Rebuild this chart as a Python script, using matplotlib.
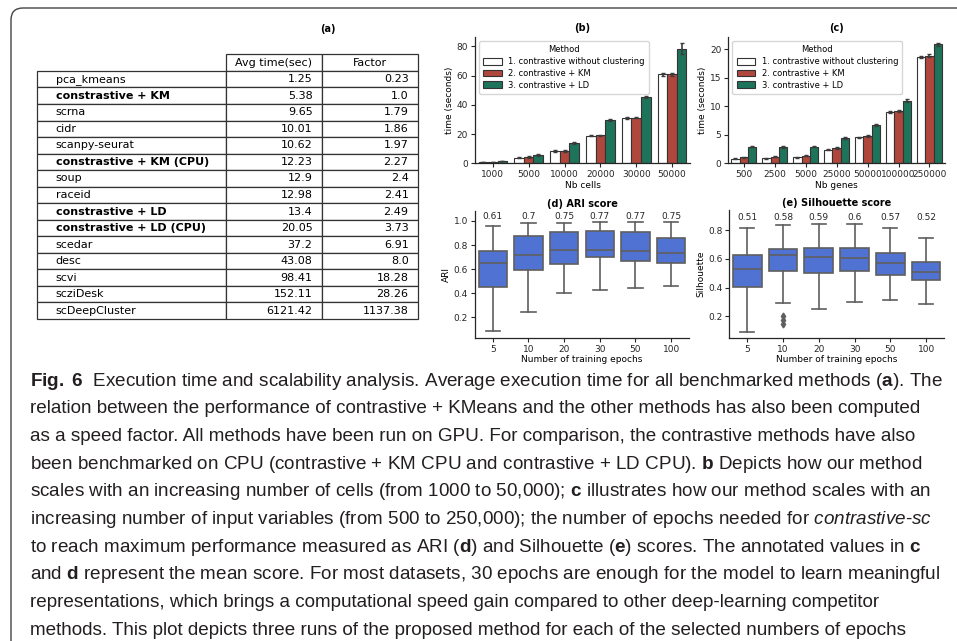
import matplotlib
matplotlib.use("Agg")
import numpy as np
import matplotlib.pyplot as plt
from matplotlib.table import Table
from matplotlib.patches import FancyBboxPatch

plt.rcParams["font.family"] = ["DejaVu Sans"]
plt.rcParams["mathtext.fontset"] = "custom"
plt.rcParams["mathtext.rm"] = "Liberation Sans"
plt.rcParams["mathtext.bf"] = "Liberation Sans:bold"
plt.rcParams["mathtext.it"] = "Liberation Sans:italic"

# (a) execution time table
methods = ["pca_kmeans", "constrastive + KM", "scrna", "cidr", "scanpy-seurat",
           "constrastive + KM (CPU)", "soup", "raceid", "constrastive + LD",
           "constrastive + LD (CPU)", "scedar", "desc", "scvi", "scziDesk",
           "scDeepCluster"]
avg_time = ["1.25", "5.38", "9.65", "10.01", "10.62", "12.23", "12.9", "12.98",
            "13.4", "20.05", "37.2", "43.08", "98.41", "152.11", "6121.42"]
factor = ["0.23", "1.0", "1.79", "1.86", "1.97", "2.27", "2.4", "2.41", "2.49",
          "3.73", "6.91", "8.0", "18.28", "28.26", "1137.38"]
bold_methods = ["constrastive + KM", "constrastive + KM (CPU)",
                "constrastive + LD", "constrastive + LD (CPU)"]
table_header = ["", "Avg time(sec)", "Factor"]

# (b) time vs number of cells
method_names = ["1. contrastive without clustering", "2. contrastive + KM",
                "3. contrastive + LD"]
method_colors = ["white", "#b0473d", "#1e735b"]
nb_cells = ["1000", "5000", "10000", "20000", "30000", "50000"]
cells_plain = [0.8, 3.9, 8.5, 19.0, 31.1, 60.8]
cells_km = [1.0, 4.3, 8.5, 19.2, 31.3, 60.8]
cells_ld = [1.5, 5.7, 13.7, 29.3, 45.3, 78.4]
cells_plain_err = [0.2, 0.4, 0.5, 0.6, 0.6, 0.9]
cells_km_err = [0.2, 0.4, 0.5, 0.5, 0.6, 0.9]
cells_ld_err = [0.2, 0.5, 0.7, 0.7, 0.8, 4.0]

# (c) time vs number of genes
nb_genes = ["500", "2500", "5000", "25000", "50000", "100000", "250000"]
genes_plain = [0.82, 0.88, 1.05, 2.4, 4.56, 8.95, 18.7]
genes_km = [1.1, 1.17, 1.35, 2.7, 4.8, 9.2, 18.9]
genes_ld = [2.9, 2.87, 2.9, 4.45, 6.67, 11.0, 20.9]
genes_plain_err = [0.08, 0.08, 0.08, 0.1, 0.12, 0.15, 0.15]
genes_km_err = [0.08, 0.08, 0.08, 0.1, 0.12, 0.15, 0.2]
genes_ld_err = [0.1, 0.1, 0.1, 0.12, 0.15, 0.2, 0.25]

# (d) ARI vs epochs
epochs = ["5", "10", "20", "30", "50", "100"]
ari_whislo = [0.083, 0.247, 0.40, 0.43, 0.44, 0.458]
ari_q1 = [0.453, 0.589, 0.642, 0.703, 0.664, 0.647]
ari_med = [0.65, 0.719, 0.756, 0.756, 0.753, 0.736]
ari_q3 = [0.753, 0.878, 0.906, 0.914, 0.906, 0.856]
ari_whishi = [0.961, 0.983, 0.986, 0.99, 0.99, 0.99]
ari_mean = ["0.61", "0.7", "0.75", "0.77", "0.77", "0.75"]

# (e) Silhouette vs epochs
sil_whislo = [0.093, 0.295, 0.253, 0.302, 0.314, 0.286]
sil_q1 = [0.402, 0.519, 0.50, 0.519, 0.488, 0.453]
sil_med = [0.528, 0.628, 0.616, 0.605, 0.574, 0.509]
sil_q3 = [0.628, 0.672, 0.674, 0.679, 0.644, 0.581]
sil_whishi = [0.814, 0.835, 0.844, 0.844, 0.812, 0.747]
sil_fliers = [[], [0.205, 0.172, 0.148], [], [], [], []]
sil_mean = ["0.51", "0.58", "0.59", "0.6", "0.57", "0.52"]

caption_lines = [
    r"$\mathbf{Fig.\ 6}$  Execution time and scalability analysis. Average execution time for all benchmarked methods ($\mathbf{a}$). The",
    "relation between the performance of contrastive + KMeans and the other methods has also been computed",
    "as a speed factor. All methods have been run on GPU. For comparison, the contrastive methods have also",
    r"been benchmarked on CPU (contrastive + KM CPU and contrastive + LD CPU). $\mathbf{b}$ Depicts how our method",
    r"scales with an increasing number of cells (from 1000 to 50,000); $\mathbf{c}$ illustrates how our method scales with an",
    r"increasing number of input variables (from 500 to 250,000); the number of epochs needed for $\mathit{contrastive}$-$\mathit{sc}$",
    r"to reach maximum performance measured as ARI ($\mathbf{d}$) and Silhouette ($\mathbf{e}$) scores. The annotated values in $\mathbf{c}$",
    r"and $\mathbf{d}$ represent the mean score. For most datasets, 30 epochs are enough for the model to learn meaningful",
    "representations, which brings a computational speed gain compared to other deep-learning competitor",
    "methods. This plot depicts three runs of the proposed method for each of the selected numbers of epochs",
]

LINE = "#333333"
BOX_BLUE = "#4f72d3"
BOX_GRAY = "#5f5f5f"


def bar_panel(ax, labels, series, errs, title, xlabel, yticks):
    x = np.arange(len(labels))
    w = 0.8 / 3
    for i, (vals, err) in enumerate(zip(series, errs)):
        ax.bar(x + (i - 1) * w, vals, w, yerr=err, color=method_colors[i],
               edgecolor=LINE, linewidth=0.8, label=method_names[i],
               error_kw=dict(ecolor="#3c3c3c", elinewidth=1.2, capsize=1.6,
                             capthick=1.0))
    ax.set_xlim(-0.5, len(labels) - 0.5)
    ax.set_xticks(x)
    ax.set_xticklabels(labels)
    ax.set_yticks(yticks)
    ax.set_xlabel(xlabel, fontsize=6.5, labelpad=1)
    ax.set_ylabel("time (seconds)", fontsize=6.5, labelpad=2)
    ax.set_title(title, fontsize=7, fontweight="bold", pad=4)
    ax.legend(title="Method", loc="upper left", fontsize=6.0,
              title_fontsize=6.0, handlelength=2.2, handleheight=0.9,
              labelspacing=0.35, borderpad=0.5)


def box_panel(ax, lo, q1, med, q3, hi, fliers, means, text_y, title, ylabel,
              ylim, yticks):
    stats = []
    for i in range(len(epochs)):
        stats.append(dict(whislo=lo[i], q1=q1[i], med=med[i], q3=q3[i],
                          whishi=hi[i], fliers=fliers[i], label=epochs[i]))
    ax.bxp(stats, positions=range(len(epochs)), widths=0.8, patch_artist=True,
           boxprops=dict(facecolor=BOX_BLUE, edgecolor=BOX_GRAY, linewidth=1.2),
           medianprops=dict(color=BOX_GRAY, linewidth=1.2),
           whiskerprops=dict(color=BOX_GRAY, linewidth=1.2),
           capprops=dict(color=BOX_GRAY, linewidth=1.2),
           flierprops=dict(marker="d", markerfacecolor=BOX_GRAY,
                           markeredgecolor=BOX_GRAY, markersize=3.5))
    for i, m in enumerate(means):
        ax.text(i, text_y, m, ha="center", va="center", fontsize=6.5,
                color="#262626")
    ax.set_xlim(-0.5, len(epochs) - 0.5)
    ax.set_ylim(*ylim)
    ax.set_yticks(yticks)
    ax.set_xlabel("Number of training epochs", fontsize=6.5, labelpad=1)
    ax.set_ylabel(ylabel, fontsize=6.5, labelpad=2)
    ax.set_title(title, fontsize=7, fontweight="bold", pad=3)


def style(ax):
    for s in ["top", "right"]:
        ax.spines[s].set_visible(False)
    for s in ["left", "bottom"]:
        ax.spines[s].set_color("#262626")
        ax.spines[s].set_linewidth(0.9)
    ax.tick_params(labelsize=6.5, length=3, width=0.8, pad=2,
                   colors="#262626")


fig = plt.figure(figsize=(9.57, 6.41), dpi=100)

# frame around the figure
frame = FancyBboxPatch((0.11, -0.5), 10.0, 6.33 + 0.5,
                       boxstyle="round,pad=0,rounding_size=0.12",
                       transform=fig.dpi_scale_trans, facecolor="none",
                       edgecolor="#444444", linewidth=1.0, clip_on=False)
fig.add_artist(frame)

# (a) table
ax_t = fig.add_axes([0.0383, 0.5023, 0.3987, 0.4129])
ax_t.axis("off")
fig.text(328 / 957, 1 - 29 / 641, "(a)", ha="center", va="center",
         fontsize=7, fontweight="bold")
tbl = Table(ax_t, bbox=[0, 0, 1, 1])
col_w = [189, 96.6, 96]
rows = [table_header] + [[m, t, f] for m, t, f in zip(methods, avg_time, factor)]
for r, row in enumerate(rows):
    for c, txt in enumerate(row):
        loc = "center" if r == 0 else ("left" if c == 0 else "right")
        cell = tbl.add_cell(r, c, col_w[c], 1, text=txt, loc=loc)
        cell.set_edgecolor(LINE)
        cell.set_linewidth(0.9)
        if r == 0 and c == 0:
            cell.visible_edges = "open"
        if c == 0 and txt in bold_methods:
            cell.get_text().set_fontweight("bold")
tbl.auto_set_font_size(False)
tbl.set_fontsize(8)
ax_t.add_table(tbl)

# (b)
ax_b = fig.add_axes([0.4963, 0.7452, 0.2247, 0.1975])
bar_panel(ax_b, nb_cells, [cells_plain, cells_km, cells_ld],
          [cells_plain_err, cells_km_err, cells_ld_err], "(b)", "Nb cells",
          [0, 20, 40, 60, 80])
style(ax_b)

# (c)
ax_c = fig.add_axes([0.7610, 0.7452, 0.2264, 0.1975])
bar_panel(ax_c, nb_genes, [genes_plain, genes_km, genes_ld],
          [genes_plain_err, genes_km_err, genes_ld_err], "(c)", "Nb genes",
          [0, 5, 10, 15, 20])
style(ax_c)

# (d)
ax_d = fig.add_axes([0.4963, 0.4732, 0.2236, 0.1977])
box_panel(ax_d, ari_whislo, ari_q1, ari_med, ari_q3, ari_whishi,
          [[]] * 6, ari_mean, 1.036, "(d) ARI score", "ARI", (0.03, 1.083),
          [0.2, 0.4, 0.6, 0.8, 1.0])
style(ax_d)

# (e)
ax_e = fig.add_axes([0.7621, 0.4732, 0.2243, 0.1992])
box_panel(ax_e, sil_whislo, sil_q1, sil_med, sil_q3, sil_whishi,
          sil_fliers, sil_mean, 0.886, "(e) Silhouette score", "Silhouette",
          (0.052, 0.94), [0.2, 0.4, 0.6, 0.8])
style(ax_e)

# caption
for i, line in enumerate(caption_lines):
    fig.text(30 / 957, 1 - (381 + 27.7 * i) / 641, line, ha="left",
             va="center", fontsize=13.6, family=["Liberation Sans"],
             color="#231f20")

fig.savefig("out.png", dpi=100, facecolor="white")
